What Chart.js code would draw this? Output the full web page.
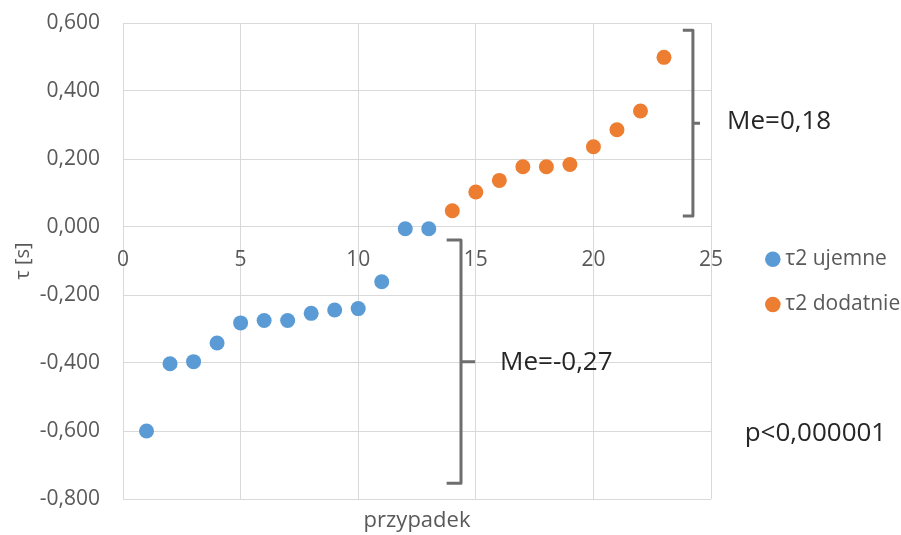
<!DOCTYPE html>
<html>
<head>
<meta charset="utf-8">
<script src="https://cdn.jsdelivr.net/npm/chart.js@4.4.1/dist/chart.umd.min.js"></script>
<style>
  html, body { margin: 0; padding: 0; background: #fff; }
</style>
</head>
<body>
<canvas id="chart" width="901" height="535"></canvas>
<script>
// data
const negCases = [1, 2, 3, 4, 5, 6, 7, 8, 9, 10, 11, 12, 13];
const negValues = [-0.600, -0.402, -0.396, -0.341, -0.282, -0.275, -0.275, -0.254, -0.244, -0.240, -0.161, -0.005, -0.005];
const posCases = [14, 15, 16, 17, 18, 19, 20, 21, 22, 23];
const posValues = [0.048, 0.103, 0.137, 0.177, 0.177, 0.184, 0.236, 0.286, 0.341, 0.499];
const seriesNames = ['τ2 ujemne', 'τ2 dodatnie'];
const xTicks = [0, 5, 10, 15, 20, 25];
const yTicks = [-0.8, -0.6, -0.4, -0.2, 0, 0.2, 0.4, 0.6];

// brackets and notes, in data units
const braces = [
    { x0: 13.76, x1: 14.37, x2: 14.97, top: -0.038, bottom: -0.754 },
    { x0: 23.80, x1: 24.23, x2: 24.53, top: 0.579, bottom: 0.032 }
];
const notes = [
    { text: 'Me=-0,27', x: 16.03, y: -0.400 },
    { text: 'Me=0,18', x: 25.68, y: 0.310 },
    { text: 'p<0,000001', x: 26.43, y: -0.609 }
];

const gray = '#595959';
const gridColor = '#d9d9d9';
const font = '"Open Sans", "Liberation Sans", sans-serif';

const notesPlugin = {
    id: 'notes',
    afterDatasetsDraw(chart) {
        const { ctx, scales: { x, y } } = chart;
        ctx.save();
        ctx.strokeStyle = '#6e6e6e';
        ctx.lineWidth = 3;
        ctx.lineJoin = 'round';
        braces.forEach(b => {
            const xl = x.getPixelForValue(b.x0);
            const xv = x.getPixelForValue(b.x1);
            const xt = x.getPixelForValue(b.x2);
            const yt = y.getPixelForValue(b.top);
            const yb = y.getPixelForValue(b.bottom);
            const ym = y.getPixelForValue((b.top + b.bottom) / 2);
            ctx.beginPath();
            ctx.moveTo(xl, yt);
            ctx.lineTo(xv, yt);
            ctx.lineTo(xv, yb);
            ctx.lineTo(xl, yb);
            ctx.moveTo(xv, ym);
            ctx.lineTo(xt, ym);
            ctx.stroke();
        });
        ctx.fillStyle = '#262626';
        ctx.font = '26px ' + font;
        ctx.textBaseline = 'middle';
        notes.forEach(n => ctx.fillText(n.text, x.getPixelForValue(n.x), y.getPixelForValue(n.y)));
        ctx.restore();
    }
};

new Chart(document.querySelector('#chart'), {
    type: 'scatter',
    data: {
        datasets: [
            {
                label: seriesNames[0],
                data: negCases.map((c, i) => ({ x: c, y: negValues[i] })),
                backgroundColor: '#5b9bd5',
                borderWidth: 0,
                pointRadius: 7.5,
                pointHoverRadius: 7.5,
                xAxisID: 'x',
                yAxisID: 'y'
            },
            {
                label: seriesNames[1],
                data: posCases.map((c, i) => ({ x: c, y: posValues[i] })),
                backgroundColor: '#ed7d31',
                borderWidth: 0,
                pointRadius: 7.5,
                pointHoverRadius: 7.5,
                xAxisID: 'x',
                yAxisID: 'y'
            }
        ]
    },
    options: {
        responsive: false,
        animation: false,
        layout: { padding: { left: 0, top: 23, right: 0, bottom: 0 } },
        plugins: {
            tooltip: { enabled: false },
            legend: {
                position: 'right',
                title: { display: true, text: ' ', font: { size: 5 }, padding: { top: 4, bottom: 0 } },
                labels: {
                    usePointStyle: true,
                    pointStyle: 'circle',
                    boxWidth: 4,
                    boxHeight: 11,
                    padding: 20,
                    color: gray,
                    font: { family: font, size: 21 },
                    // one-line arrays so each row takes a full line height
                    generateLabels: chart => Chart.defaults.plugins.legend.labels.generateLabels(chart)
                        .map(l => Object.assign(l, { text: [l.text] }))
                }
            }
        },
        scales: {
            x: {
                type: 'linear',
                position: { y: 0 },
                min: 0,
                max: 25,
                afterBuildTicks: s => { s.ticks = xTicks.map(v => ({ value: v })); },
                grid: { color: gridColor, drawTicks: false },
                border: { display: false },
                ticks: { color: gray, padding: 20, font: { family: font, size: 21 } }
            },
            xTitle: {
                type: 'linear',
                axis: 'x',
                position: 'bottom',
                grid: { display: false, drawTicks: false },
                border: { display: false },
                ticks: { display: false },
                title: {
                    display: true,
                    text: 'przypadek',
                    color: gray,
                    font: { family: font, size: 22 },
                    padding: { top: 8.6, bottom: 1 }
                }
            },
            y: {
                type: 'linear',
                position: 'left',
                min: -0.8,
                max: 0.6,
                afterBuildTicks: s => { s.ticks = yTicks.map(v => ({ value: v })); },
                afterFit: s => {
                    s.width = 123;
                    s.paddingTop = 0;
                    s.paddingBottom = 0;
                },
                grid: { color: gridColor, drawTicks: false },
                border: { display: false },
                ticks: {
                    color: gray,
                    padding: 23,
                    font: { family: font, size: 21 },
                    callback: v => v.toFixed(3).replace('.', ',')
                },
                title: {
                    display: true,
                    text: 'τ [s]',
                    color: gray,
                    font: { family: font, size: 20 },
                    padding: { top: 11, bottom: 8 }
                }
            },
            gap: {
                type: 'linear',
                axis: 'y',
                position: 'right',
                grid: { display: false, drawTicks: false },
                border: { display: false },
                ticks: { display: false },
                afterFit: s => { s.width = 39.8; }
            }
        }
    },
    plugins: [notesPlugin]
});
</script>
</body>
</html>
